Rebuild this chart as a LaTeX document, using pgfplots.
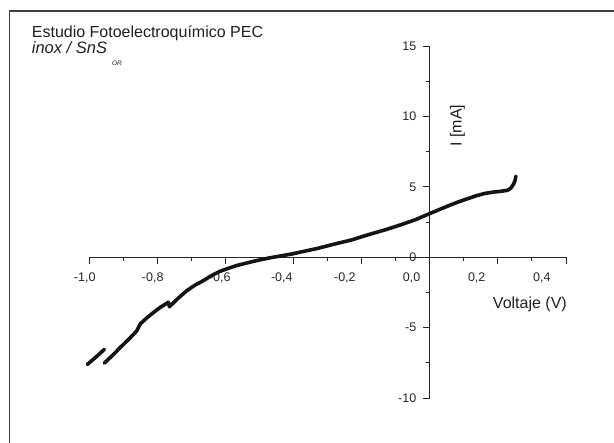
\documentclass[border=0pt]{standalone}
\usepackage{fontspec}
\setmainfont{Liberation Sans}
\usepackage{pgfplots}
\pgfplotsset{compat=1.18}
\begin{document}
\begin{tikzpicture}
\begin{axis}[
  at={(0pt,0pt)}, anchor=south west,
  scale only axis, width=477pt, height=352pt,
  xmin=-1, xmax=0.4, ymin=-10, ymax=15,
  axis lines=middle,
  clip=false,
  hide obscured x ticks=false, hide obscured y ticks=false,
  axis line style={-, line width=0.9pt, black!85},
  every tick/.style={line width=0.9pt, black!85},
  tick align=outside,
  major tick length=6.7pt, minor tick length=3.5pt,
  xtick={-1,-0.8,-0.6,-0.4,-0.2,0,0.2,0.4},
  xticklabels={{-1,0},{},{},{},{},{},{},{}},
  minor xtick={-0.9,-0.7,-0.5,-0.3,-0.1,0.1,0.3},
  ytick={-10,-5,0,5,10,15},
  yticklabels={-10,-5,0,5,10,15},
  minor ytick={-7.5,-2.5,2.5,7.5,12.5},
  extra x ticks={-0.813,-0.616,-0.434,-0.249,-0.053,0.138,0.329},
  extra x tick labels={{-0,8},{-0,6},{-0,4},{-0,2},{0,0},{0,2},{0,4}},
  extra x tick style={major tick length=0pt, xticklabel style={xshift=4.3pt, yshift=-6.7pt}},
  ticklabel style={font=\fontsize{12.5}{15}\selectfont, text=black!85, inner sep=0pt},
  xticklabel style={anchor=base, yshift=-17.6pt, xshift=-4.3pt},
  yticklabel style={anchor=east, xshift=-6.6pt},
]
\addplot[line width=3.6pt, black!92, line join=round, line cap=round] coordinates {
(-1.005,-7.62) (-0.98,-7.1) (-0.955,-6.55)
};
\addplot[line width=3.6pt, black!92, line join=round, line cap=round] coordinates {
(-0.955,-7.52) (-0.93,-6.95) (-0.909,-6.43) (-0.88,-5.75) (-0.86,-5.24)
(-0.857,-5.1) (-0.85,-4.75) (-0.83,-4.3) (-0.811,-3.93) (-0.79,-3.55)
(-0.767,-3.2) (-0.764,-3.52) (-0.74,-2.95) (-0.713,-2.38) (-0.69,-2.0)
(-0.664,-1.66) (-0.64,-1.3) (-0.615,-1.0) (-0.59,-0.78) (-0.566,-0.59)
(-0.54,-0.43) (-0.517,-0.29) (-0.49,-0.15) (-0.468,-0.04) (-0.43,0.12)
(-0.4,0.25) (-0.38,0.36) (-0.33,0.62) (-0.28,0.93) (-0.23,1.22)
(-0.18,1.6) (-0.13,1.95) (-0.085,2.3) (-0.04,2.68) (0.0,3.1)
(0.03,3.4) (0.062,3.72) (0.09,3.98) (0.111,4.15) (0.135,4.35)
(0.16,4.52) (0.185,4.62) (0.209,4.68) (0.228,4.75) (0.238,4.9)
(0.245,5.15) (0.25,5.4) (0.253,5.75)
};
\end{axis}
\node[anchor=base west, inner sep=0pt, text=black!88, font=\fontsize{16}{19}\selectfont] at (-57.3pt,360.7pt) {Estudio Fotoelectroquímico PEC};
\node[anchor=base west, inner sep=0pt, text=black!88] at (-57.3pt,344.7pt) {\fontsize{16.5}{19}\selectfont\itshape inox / SnS\hspace{5pt}\raisebox{-12.7pt}{\fontsize{6.5}{7}\selectfont OR}};
\node[anchor=base east, inner sep=0pt, text=black!88, font=\fontsize{16}{19}\selectfont] at (478pt,89pt) {Voltaje (V)};
\node[anchor=base west, rotate=90, inner sep=0pt, text=black!88, font=\fontsize{16}{19}\selectfont] at (372.5pt,251.3pt) {I [mA]};
\draw[black!75, line width=1.2pt] (-79.7pt,-60pt) -- (-79.7pt,387pt) -- (540pt,387pt);
\pgfresetboundingbox
\useasboundingbox (-89pt,-45pt) rectangle (525pt,398pt);
\end{tikzpicture}
\end{document}
